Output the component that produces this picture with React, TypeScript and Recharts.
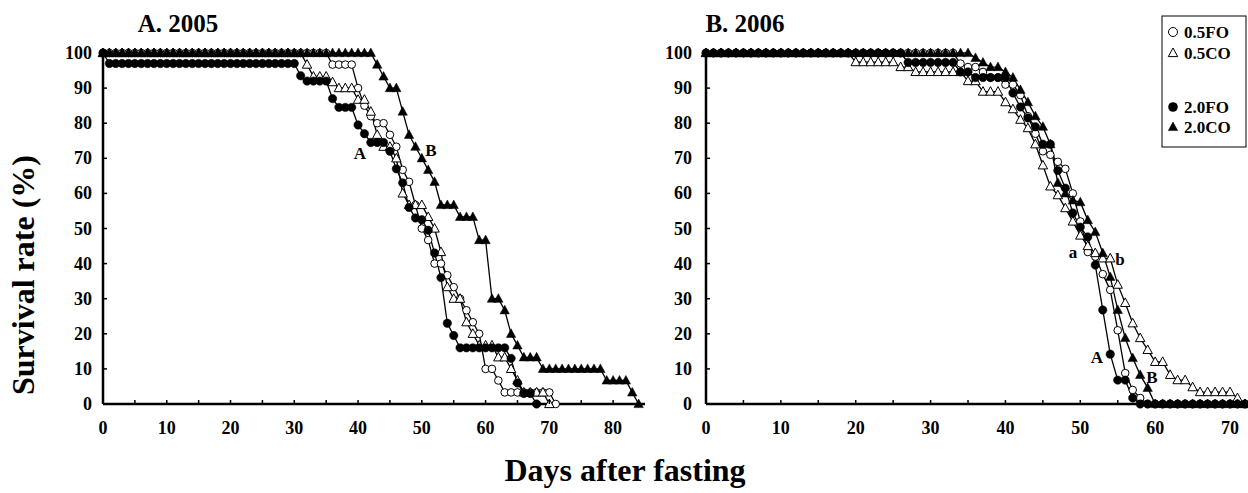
import React from "react";
import { LineChart, Line, XAxis, YAxis } from "recharts";

// ---------- Panel A (2005) ----------
const daysA = [
  0, 1, 2, 3, 4, 5, 6, 7, 8, 9, 10, 11, 12, 13, 14, 15, 16, 17, 18, 19,
  20, 21, 22, 23, 24, 25, 26, 27, 28, 29, 30, 31, 32, 33, 34, 35, 36, 37, 38, 39,
  40, 41, 42, 43, 44, 45, 46, 47, 48, 49, 50, 51, 52, 53, 54, 55, 56, 57, 58, 59,
  60, 61, 62, 63, 64, 65, 66, 67, 68, 69, 70, 71, 72, 73, 74, 75, 76, 77, 78, 79,
  80, 81, 82, 83, 84,
];
const fo05A = [
  100, 100, 100, 100, 100, 100, 100, 100, 100, 100,
  100, 100, 100, 100, 100, 100, 100, 100, 100, 100,
  100, 100, 100, 100, 100, 100, 100, 100, 100, 100,
  100, 100, 100, 100, 100, 100, 96.7, 96.7, 96.7, 96.7,
  90, 85, 82, 80, 80, 76.7, 73.3, 66.7, 63.3, 56.7,
  50, 46.7, 40, 40, 36.7, 33.3, 30, 26.7, 23.3, 20,
  10, 10, 6.7, 3.3, 3.3, 3.3, 3.3, 3.3, 3.3, 3.3,
  3.3, 0,
];
const co05A = [
  100, 100, 100, 100, 100, 100, 100, 100, 100, 100,
  100, 100, 100, 100, 100, 100, 100, 100, 100, 100,
  100, 100, 100, 100, 100, 100, 100, 100, 100, 100,
  100, 100, 96.7, 93.3, 93.3, 93.3, 91.7, 90, 90, 90,
  86.7, 86.7, 83.3, 76.7, 73.3, 73.3, 70, 60, 56.7, 56.7,
  56.7, 53.3, 50, 43.3, 33.3, 30, 30, 23.3, 20, 16.7,
  16.7, 16.7, 13.3, 13.3, 10, 6.7, 3.3, 3.3, 3.3, 3.3,
  0,
];
const fo20A = [
  100, 97, 97, 97, 97, 97, 97, 97, 97, 97,
  97, 97, 97, 97, 97, 97, 97, 97, 97, 97,
  97, 97, 97, 97, 97, 97, 97, 97, 97, 97,
  97, 93.5, 92, 92, 92, 92, 87, 84.5, 84.5, 84.5,
  79.5, 77, 74.5, 74.5, 74.5, 72, 67, 63, 56, 53,
  52.5, 49.5, 43, 36, 23, 19.5, 16, 16, 16, 16,
  16, 16, 16, 16, 13, 6, 3, 3, 0,
];
const co20A = [
  100, 100, 100, 100, 100, 100, 100, 100, 100, 100,
  100, 100, 100, 100, 100, 100, 100, 100, 100, 100,
  100, 100, 100, 100, 100, 100, 100, 100, 100, 100,
  100, 100, 100, 100, 100, 100, 100, 100, 100, 100,
  100, 100, 100, 96.7, 93.3, 90, 90, 83.3, 76.7, 73.3,
  70, 66.7, 63.3, 56.7, 56.7, 56.7, 53.3, 53.3, 53.3, 46.7,
  46.7, 30, 30, 26.7, 20, 16.7, 13.3, 13.3, 13.3, 10,
  10, 10, 10, 10, 10, 10, 10, 10, 10, 6.7,
  6.7, 6.7, 6.7, 3.3, 0,
];

// ---------- Panel B (2006) ----------
const daysB = [
  0, 1, 2, 3, 4, 5, 6, 7, 8, 9, 10, 11, 12, 13, 14, 15, 16, 17, 18, 19,
  20, 21, 22, 23, 24, 25, 26, 27, 28, 29, 30, 31, 32, 33, 34, 35, 36, 37, 38, 39,
  40, 41, 42, 43, 44, 45, 46, 47, 48, 49, 50, 51, 52, 53, 54, 55, 56, 57, 58, 59,
  60, 61, 62, 63, 64, 65, 66, 67, 68, 69, 70, 71, 72,
];
const fo05B = [
  100, 100, 100, 100, 100, 100, 100, 100, 100, 100,
  100, 100, 100, 100, 100, 100, 100, 100, 100, 100,
  100, 100, 100, 100, 100, 100, 100, 100, 100, 100,
  100, 100, 100, 100, 97, 96, 96, 94.6, 93, 93,
  91, 91, 88, 82, 77, 72, 71, 69, 67, 60,
  52, 43.3, 42, 37, 32.5, 21, 8.8, 4, 1.7, 0,
  0, 0, 0, 0, 0, 0, 0, 0, 0, 0, 0, 0, 0,
];
const co05B = [
  100, 100, 100, 100, 100, 100, 100, 100, 100, 100,
  100, 100, 100, 100, 100, 100, 100, 100, 100, 100,
  97.4, 97.4, 97.4, 97.4, 97.4, 97.4, 96, 96, 94.6, 94.6,
  94.6, 94.6, 94.6, 94.6, 94.6, 92, 92, 89, 89, 89,
  86, 84, 81, 78.6, 74, 68, 62, 59.5, 55.8, 52,
  48, 45, 43, 41.5, 41.5, 34, 28.8, 23, 18.8, 15.4,
  12, 12, 8.3, 6.8, 6.8, 4.8, 3.4, 3.4, 3.4, 3.4,
  3.4, 1.7, 0,
];
const fo20B = [
  100, 100, 100, 100, 100, 100, 100, 100, 100, 100,
  100, 100, 100, 100, 100, 100, 100, 100, 100, 100,
  100, 100, 100, 100, 100, 100, 100, 97.3, 97.3, 97.3,
  97.3, 97.3, 97.3, 97.3, 94.6, 94.6, 93, 93, 93, 93,
  93, 88.6, 84.6, 81.5, 79, 74, 74, 66.5, 61.5, 54.4,
  50.4, 47.6, 39.6, 26.8, 14.2, 6.8, 6.8, 1.7, 0, 0,
  0, 0, 0, 0, 0, 0, 0, 0, 0, 0, 0, 0, 0,
];
const co20B = [
  100, 100, 100, 100, 100, 100, 100, 100, 100, 100,
  100, 100, 100, 100, 100, 100, 100, 100, 100, 100,
  100, 100, 100, 100, 100, 100, 100, 100, 100, 100,
  100, 100, 100, 100, 100, 100, 98.6, 97.3, 96, 96,
  94.6, 93, 89.5, 86, 82, 79, 74, 63, 60, 58,
  57.5, 52.4, 49, 43, 36.2, 26.8, 18.8, 13.1, 8.3, 4.6,
  0, 0, 0, 0, 0, 0, 0, 0, 0, 0, 0, 0, 0,
];

const yTicks = [0, 10, 20, 30, 40, 50, 60, 70, 80, 90, 100];
const xTicksA = [0, 5, 10, 15, 20, 25, 30, 35, 40, 45, 50, 55, 60, 65, 70, 75, 80];
const xTicksB = [0, 5, 10, 15, 20, 25, 30, 35, 40, 45, 50, 55, 60, 65, 70];
const seriesNames = ["0.5FO", "0.5CO", "2.0FO", "2.0CO"];

const FONT = "'Liberation Serif', 'Times New Roman', serif";

const rowsA = daysA.map((d, i) => ({
  day: d,
  fo05: fo05A[i] ?? null,
  co05: co05A[i] ?? null,
  fo20: fo20A[i] ?? null,
  co20: co20A[i] ?? null,
}));
const rowsB = daysB.map((d, i) => ({
  day: d,
  fo05: fo05B[i] ?? null,
  co05: co05B[i] ?? null,
  fo20: fo20B[i] ?? null,
  co20: co20B[i] ?? null,
}));

const tri = (cx: number, cy: number) =>
  `${cx},${cy - 5} ${cx + 4.7},${cy + 3.6} ${cx - 4.7},${cy + 3.6}`;

const makeDot = (kind: string) => (props: any) => {
  const { cx, cy, value, index } = props;
  const k = `${kind}-${index}`;
  if (cx == null || cy == null || value == null || Number.isNaN(cy)) return <g key={k} />;
  if (kind === "oc")
    return <circle key={k} cx={cx} cy={cy} r={3.8} fill="#fff" stroke="#000" strokeWidth={1} />;
  if (kind === "fc")
    return <circle key={k} cx={cx} cy={cy} r={4.2} fill="#000" stroke="#000" strokeWidth={0.5} />;
  if (kind === "ot")
    return <polygon key={k} points={tri(cx, cy)} fill="#fff" stroke="#000" strokeWidth={1} />;
  return <polygon key={k} points={tri(cx, cy)} fill="#000" stroke="#000" strokeWidth={0.5} />;
};

const XTick = (props: any) => {
  const { x, y, payload } = props;
  const v = payload.value;
  return (
    <g>
      {v !== 0 && <line x1={x} x2={x} y1={y} y2={y - 4} stroke="#000" strokeWidth={1.5} />}
      {v % 10 === 0 && (
        <text x={x} y={y + 30} textAnchor="middle" fontFamily={FONT} fontWeight="bold" fontSize={18} fill="#000">
          {v}
        </text>
      )}
    </g>
  );
};

const makeYTick = (gap: number) => (props: any) => {
  const { x, y, payload } = props;
  const v = payload.value;
  return (
    <g>
      {v !== 0 && <line x1={x} x2={x + 4} y1={y} y2={y} stroke="#000" strokeWidth={1.5} />}
      <text x={x - gap} y={y + 6} textAnchor="end" fontFamily={FONT} fontWeight="bold" fontSize={18} fill="#000">
        {v}
      </text>
    </g>
  );
};

const Panel = ({ rows, domainMax, xTicks, yAxisWidth, width, rightMargin, gap }: any) => (
  <LineChart
    width={width}
    height={493}
    data={rows}
    margin={{ top: 53, right: rightMargin, bottom: 49, left: 0 }}
  >
    <XAxis
      type="number"
      dataKey="day"
      domain={[0, domainMax]}
      ticks={xTicks}
      interval={0}
      height={40}
      tickSize={0}
      tickMargin={0}
      tickLine={false}
      axisLine={{ stroke: "#000", strokeWidth: 2.5 }}
      tick={<XTick />}
      allowDecimals={false}
    />
    <YAxis
      type="number"
      domain={[0, 100]}
      ticks={yTicks}
      interval={0}
      width={yAxisWidth}
      tickSize={0}
      tickMargin={0}
      tickLine={false}
      axisLine={{ stroke: "#000", strokeWidth: 2.5 }}
      tick={makeYTick(gap)}
    />
    <Line dataKey="fo05" stroke="#000" strokeWidth={1.3} isAnimationActive={false} dot={makeDot("oc")} activeDot={false} />
    <Line dataKey="co05" stroke="#000" strokeWidth={1.3} isAnimationActive={false} dot={makeDot("ot")} activeDot={false} />
    <Line dataKey="fo20" stroke="#000" strokeWidth={1.3} isAnimationActive={false} dot={makeDot("fc")} activeDot={false} />
    <Line dataKey="co20" stroke="#000" strokeWidth={1.3} isAnimationActive={false} dot={makeDot("ft")} activeDot={false} />
  </LineChart>
);

const txt = { fontFamily: FONT, fontWeight: "bold" as const, fill: "#000" };

export default function App() {
  return (
    <div style={{ position: "absolute", left: 0, top: 0, width: 1248, height: 493, background: "#fff", overflow: "hidden" }}>
      <div style={{ position: "absolute", left: 0, top: 0 }}>
        <Panel rows={rowsA} domainMax={85} xTicks={xTicksA} yAxisWidth={103} width={660} rightMargin={15} gap={11} />
      </div>
      <div style={{ position: "absolute", left: 600, top: 0 }}>
        <Panel rows={rowsB} domainMax={72} xTicks={xTicksB} yAxisWidth={106} width={648} rightMargin={3} gap={14} />
      </div>
      <svg width={1248} height={493} style={{ position: "absolute", left: 0, top: 0, pointerEvents: "none" }}>
        <text x={178} y={32} textAnchor="middle" fontSize={25} {...txt}>A. 2005</text>
        <text x={745} y={32} textAnchor="middle" fontSize={25} {...txt}>B. 2006</text>
        <text x={625} y={481} textAnchor="middle" fontSize={32} {...txt}>Days after fasting</text>
        <text transform="translate(34,275) rotate(-90)" textAnchor="middle" fontSize={32} {...txt}>Survival rate (%)</text>
        {/* annotations */}
        <text x={360} y={159} textAnchor="middle" fontSize={17} {...txt}>A</text>
        <text x={431} y={156} textAnchor="middle" fontSize={17} {...txt}>B</text>
        <text x={1073} y={258} textAnchor="middle" fontSize={17} {...txt}>a</text>
        <text x={1120} y={265} textAnchor="middle" fontSize={17} {...txt}>b</text>
        <text x={1097} y={363} textAnchor="middle" fontSize={17} {...txt}>A</text>
        <text x={1152} y={383} textAnchor="middle" fontSize={17} {...txt}>B</text>
        {/* legend */}
        <rect x={1162} y={16} width={84} height={131} fill="#fff" stroke="#000" strokeWidth={1} />
        <circle cx={1173} cy={32} r={4.5} fill="#fff" stroke="#000" strokeWidth={1} />
        <text x={1184} y={38} fontSize={17} {...txt}>{seriesNames[0]}</text>
        <polygon points={tri(1173, 53)} fill="#fff" stroke="#000" strokeWidth={1} />
        <text x={1184} y={59} fontSize={17} {...txt}>{seriesNames[1]}</text>
        <circle cx={1173} cy={107} r={4.8} fill="#000" />
        <text x={1184} y={113} fontSize={17} {...txt}>{seriesNames[2]}</text>
        <polygon points={tri(1173, 127)} fill="#000" stroke="#000" strokeWidth={0.5} />
        <text x={1184} y={133} fontSize={17} {...txt}>{seriesNames[3]}</text>
      </svg>
    </div>
  );
}
